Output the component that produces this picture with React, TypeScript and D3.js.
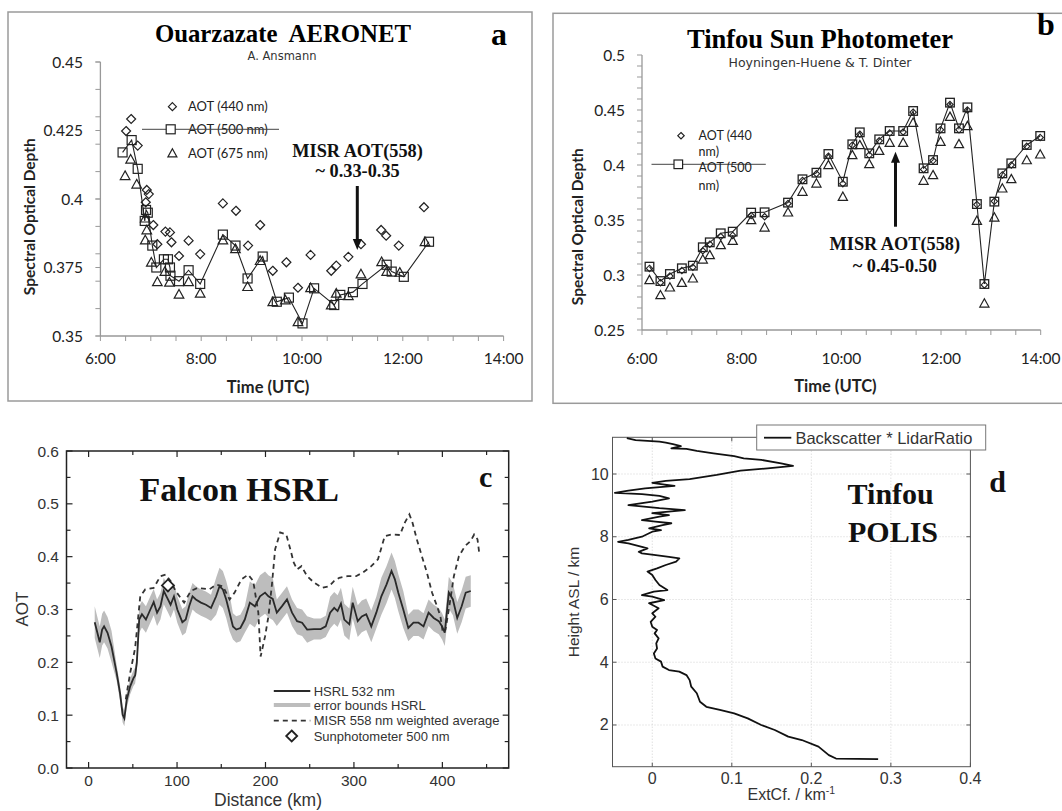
import React from 'react';
import * as d3 from 'd3';

// ---------- Panel a: Ouarzazate AERONET ----------
const aTime440 = [6.51,6.61,6.74,6.90,6.92,6.96,7.05,7.13,7.29,7.38,7.41,7.56,7.75,7.98,8.43,8.69,8.93,9.17,9.42,9.69,9.92,10.17,10.58,10.68,10.92,11.17,11.57,11.67,11.92,12.42];
const aAot440 = [0.4248,0.4292,0.4195,0.3988,0.4033,0.4018,0.3905,0.3835,0.3881,0.3878,0.3842,0.3792,0.3848,0.3799,0.3984,0.3957,0.383,0.3905,0.3738,0.3769,0.3676,0.3796,0.3738,0.3757,0.3789,0.3835,0.3887,0.3866,0.383,0.397];
const aTime500 = [6.44,6.62,6.74,6.88,6.905,6.94,7.03,7.11,7.26,7.34,7.38,7.39,7.56,7.75,7.98,8.43,8.68,8.92,9.22,9.50,9.74,10.01,10.24,10.64,10.76,11.01,11.2,11.68,11.78,12.02,12.52];
const aAot500 = [0.417,0.4215,0.411,0.392,0.396,0.395,0.383,0.375,0.378,0.378,0.375,0.372,0.370,0.374,0.369,0.387,0.383,0.371,0.379,0.3625,0.364,0.3546,0.3674,0.3613,0.365,0.366,0.369,0.376,0.3735,0.3716,0.3844];
const aTime675 = [6.49,6.60,6.72,6.89,6.92,6.89,7.01,7.13,7.28,7.37,7.56,7.75,7.98,8.43,8.68,8.92,9.17,9.42,9.67,9.92,10.17,10.58,10.68,10.92,11.17,11.58,11.68,11.94,12.44];
const aAot675 = [0.4085,0.4145,0.4054,0.393,0.3887,0.385,0.3769,0.3698,0.3735,0.3696,0.3652,0.3698,0.3656,0.385,0.3818,0.368,0.3775,0.3625,0.3631,0.3552,0.3676,0.3613,0.3656,0.3647,0.3726,0.3771,0.3735,0.3732,0.3844];
const aYTicks = [0.35, 0.375, 0.4, 0.425, 0.45];
const aYTickLabels = ['0.35', '0.375', '0.4', '0.425', '0.45'];
const timeTicks = [6, 8, 10, 12, 14];
const timeTickLabels = ['6:00', '8:00', '10:00', '12:00', '14:00'];

// ---------- Panel b: Tinfou Sun Photometer ----------
const bTime = [6.15,6.37,6.56,6.80,7.02,7.22,7.36,7.58,7.82,8.19,8.46,8.93,9.22,9.50,9.74,10.03,10.22,10.37,10.56,10.76,10.97,11.24,11.44,11.65,11.84,11.99,12.18,12.36,12.53,12.72,12.87,13.07,13.23,13.41,13.72,13.99];
const bAot440 = [0.306,0.293,0.299,0.304,0.307,0.322,0.328,0.335,0.336,0.354,0.353,0.365,0.386,0.392,0.408,0.383,0.418,0.428,0.409,0.422,0.429,0.430,0.448,0.396,0.404,0.432,0.455,0.432,0.450,0.364,0.291,0.367,0.391,0.400,0.417,0.425];
const bAot500 = [0.3076,0.2945,0.3009,0.3061,0.3085,0.3252,0.3297,0.3379,0.3394,0.3567,0.357,0.3658,0.387,0.393,0.41,0.3848,0.4188,0.4297,0.4106,0.4233,0.4309,0.4309,0.4491,0.397,0.4045,0.4333,0.4567,0.4333,0.4524,0.3645,0.2918,0.3667,0.3924,0.4015,0.4182,0.4264];
const bAot675 = [0.2955,0.2818,0.2888,0.293,0.297,0.3142,0.3182,0.3273,0.3312,0.35,0.3433,0.357,0.3758,0.3833,0.4,0.3712,0.4091,0.4182,0.4009,0.413,0.4203,0.4203,0.4385,0.3858,0.3909,0.4212,0.4439,0.4191,0.4355,0.3494,0.2742,0.3524,0.3788,0.3873,0.4045,0.4097];
const bYTicks = [0.25, 0.3, 0.35, 0.4, 0.45, 0.5];
const bYTickLabels = ['0.25', '0.3', '0.35', '0.4', '0.45', '0.5'];

// ---------- Panel c: Falcon HSRL ----------
const cKm = [6.9,9.9,12.6,15.3,17.5,21.4,25.9,31.7,35.5,38.5,40.4,43.1,46.9,50.7,52.6,54.5,57.2,60.3,64.8,69.8,73.6,77.4,81.2,85.0,88.9,92.7,96.5,100.3,106,109.8,113.7,117.5,121.3,127,132.7,138.4,144.2,148,151.8,155.6,159.4,163.2,167,171.6,176.6,182.3,188,193.8,199.5,203.3,208.2,212.8,218.5,224.3,230,235.7,241.4,247.1,254.8,262.4,268.1,273.1,277.7,281.5,285.3,289.1,294.8,298.6,304.3,308.9,313.9,319.6,325.3,331,336.8,342.5,346.3,350.1,355.8,361.5,367.3,373,378.7,384.4,390.2,395.9,399.7,402.7,407.3,411.9,416.8,421.8,426.4,432.1];
const cHsrl = [0.276,0.256,0.238,0.262,0.268,0.256,0.230,0.180,0.142,0.101,0.094,0.129,0.154,0.170,0.175,0.199,0.281,0.291,0.281,0.300,0.314,0.294,0.306,0.335,0.322,0.309,0.325,0.300,0.276,0.281,0.306,0.325,0.319,0.313,0.309,0.303,0.325,0.344,0.338,0.319,0.294,0.268,0.262,0.265,0.281,0.313,0.306,0.325,0.332,0.325,0.320,0.294,0.306,0.319,0.294,0.278,0.275,0.262,0.263,0.263,0.268,0.294,0.303,0.297,0.311,0.281,0.272,0.313,0.278,0.287,0.291,0.268,0.294,0.325,0.347,0.373,0.357,0.332,0.300,0.265,0.275,0.275,0.268,0.294,0.284,0.278,0.268,0.256,0.332,0.319,0.284,0.306,0.332,0.335];
const cErr = [0.03,0.03,0.03,0.03,0.03,0.03,0.03,0.015,0.015,0.015,0.015,0.015,0.015,0.015,0.015,0.015,0.025,0.025,0.025,0.025,0.025,0.025,0.025,0.025,0.025,0.025,0.025,0.025,0.025,0.025,0.025,0.025,0.025,0.025,0.025,0.025,0.035,0.035,0.035,0.035,0.035,0.025,0.025,0.025,0.025,0.04,0.04,0.04,0.04,0.04,0.04,0.025,0.025,0.025,0.025,0.025,0.025,0.025,0.02,0.02,0.02,0.03,0.03,0.03,0.03,0.03,0.03,0.03,0.03,0.03,0.03,0.03,0.03,0.035,0.035,0.035,0.035,0.035,0.035,0.025,0.025,0.025,0.025,0.025,0.025,0.025,0.025,0.025,0.03,0.03,0.03,0.03,0.03,0.03];
const cMisrKm = [42,47,52.6,58.4,64,73.6,81.2,87,92.7,98.4,108,115.6,123.2,136.5,144.2,151.8,159.4,165.1,172.8,180.4,186.1,191.9,194.5,199.5,203.3,207.1,210.9,216.6,223.5,228.1,231.9,235.7,240.7,247.1,254.8,264.3,271.9,277.7,283.4,292.9,302.4,310.1,319.6,327.2,334.9,342.5,352,357.7,362.7,366.1,371.1,376.8,382.5,388.3,394,397.8,400.5,403.5,407.3,413,418.7,425.6,432.1,435.9,439.7,441.6];
const cMisr = [0.13,0.18,0.227,0.325,0.338,0.341,0.363,0.366,0.354,0.335,0.313,0.335,0.341,0.338,0.347,0.344,0.319,0.332,0.357,0.366,0.354,0.294,0.211,0.249,0.287,0.344,0.414,0.446,0.442,0.414,0.389,0.376,0.382,0.363,0.351,0.341,0.344,0.354,0.360,0.363,0.363,0.370,0.382,0.395,0.439,0.442,0.441,0.465,0.480,0.465,0.433,0.401,0.370,0.332,0.306,0.287,0.256,0.262,0.300,0.363,0.401,0.420,0.430,0.442,0.433,0.408];
const cSunKm = [89.7];
const cSun = [0.3456];
const cXTicks = [0, 100, 200, 300, 400];
const cYTicks = [0, 0.1, 0.2, 0.3, 0.4, 0.5, 0.6];
const cYTickLabels = ['0.0', '0.1', '0.2', '0.3', '0.4', '0.5', '0.6'];
const cLegend = ['HSRL 532 nm', 'error bounds HSRL', 'MISR 558 nm weighted average', 'Sunphotometer 500 nm'];

// ---------- Panel d: Tinfou POLIS ----------
const dExt = [0.284,0.231,0.222,0.209,0.188,0.171,0.154,0.137,0.120,0.103,0.085,0.068,0.060,0.056,0.049,0.047,0.043,0.034,0.021,0.013,0.011,0.004,0.002,0.006,0.005,0.008,0.003,0.006,0.000,-0.002,0.004,0.000,0.008,-0.004,0.015,0.000,-0.013,0.002,0.019,0.009,0.004,0.000,-0.006,0.006,0.017,0.030,0.034,0.021,0.002,-0.013,-0.017,-0.006,-0.013,-0.030,-0.043,-0.030,-0.013,-0.004,0.000,0.011,-0.004,0.013,0.024,0.004,-0.013,0.009,0.021,0.000,0.041,0.009,-0.030,0.000,0.021,0.009,-0.013,-0.047,-0.030,-0.009,0.028,0.011,0.000,0.017,0.047,0.081,0.111,0.145,0.177,0.162,0.137,0.115,0.103,0.077,0.056,0.043,0.024,0.036,0.026,0.017,0.009,-0.021,-0.032];
const dHeight = [0.91,0.93,1.04,1.31,1.52,1.63,1.84,2.0,2.21,2.37,2.48,2.58,2.74,3.01,3.22,3.43,3.59,3.70,3.75,3.86,4.02,4.12,4.28,4.44,4.60,4.76,4.92,5.03,5.13,5.29,5.45,5.56,5.72,5.88,5.98,6.09,6.14,6.25,6.30,6.46,6.62,6.78,6.89,6.99,7.10,7.21,7.31,7.36,7.42,7.47,7.52,7.63,7.68,7.79,7.84,7.90,8.00,8.11,8.16,8.21,8.27,8.37,8.43,8.48,8.53,8.64,8.69,8.75,8.85,8.91,9.01,9.12,9.22,9.30,9.36,9.40,9.47,9.54,9.62,9.68,9.72,9.78,9.84,9.97,10.11,10.18,10.26,10.34,10.45,10.50,10.57,10.66,10.74,10.80,10.82,10.89,10.95,11.0,11.03,11.08,11.14];
const dXTicks = [0, 0.1, 0.2, 0.3, 0.4];
const dXTickLabels = ['0', '0.1', '0.2', '0.3', '0.4'];
const dYTicks = [2, 4, 6, 8, 10];

const FXL = "Lato, 'Open Sans', sans-serif";
const FSERIF = "'Liberation Serif', 'DejaVu Serif', serif";
const FSANS = "'Liberation Sans', Arial, sans-serif";
const FWIDE = "'DejaVu Sans', Verdana, sans-serif";

const diamond = (r: number) => `M0,${-r}L${r},0L0,${r}L${-r},0Z`;
const triangle = (r: number) => `M0,${-r}L${r},${r * 0.8}L${-r},${r * 0.8}Z`;

function Arrow({ x, y1, y2 }: { x: number; y1: number; y2: number }) {
  const dir = y2 > y1 ? 1 : -1;
  return (
    <g>
      <line x1={x} y1={y1} x2={x} y2={y2 - dir * 8} stroke="#111" strokeWidth={3} />
      <path d={`M${x},${y2}L${x - 4.5},${y2 - dir * 11}L${x + 4.5},${y2 - dir * 11}Z`} fill="#111" />
    </g>
  );
}

function PanelA() {
  const x = d3.scaleLinear().domain([6, 14]).range([100.4, 503.6]);
  const y = d3.scaleLinear().domain([0.35, 0.45]).range([336, 62]);
  const line = d3.line<number>().x((_, i) => x(aTime500[i])).y(d => y(d));
  const yMinor = d3.range(35, 46).map(i => i / 100);
  const xMinor = d3.range(12, 29).map(i => i / 2);
  return (
    <g>
      <rect x={8} y={12} width={524} height={389} fill="none" stroke="#9a9a9a" strokeWidth={1.5} />
      <text x={283} y={41.7} textAnchor="middle" fontFamily={FSERIF} fontWeight="bold" fontSize={24.8} style={{ whiteSpace: 'pre' }}>Ouarzazate  AERONET</text>
      <text x={282} y={60} textAnchor="middle" fontFamily={FWIDE} fontSize={11.5} fill="#333">A. Ansmann</text>
      <text x={499} y={45} textAnchor="middle" fontFamily={FSERIF} fontWeight="bold" fontSize={32}>a</text>
      <line x1={x(6)} x2={x(6)} y1={y(0.45)} y2={y(0.35)} stroke="#999" strokeWidth={1.3} />
      <line x1={x(6)} x2={x(14)} y1={y(0.35)} y2={y(0.35)} stroke="#999" strokeWidth={1.3} />
      {[...yMinor, ...aYTicks].map((v, i) => (
        <line key={'yt' + i} x1={x(6) - 5} x2={x(6)} y1={y(v)} y2={y(v)} stroke="#999" strokeWidth={1} />
      ))}
      {xMinor.map((v, i) => (
        <line key={'xt' + i} x1={x(v)} x2={x(v)} y1={y(0.35)} y2={y(0.35) + 5} stroke="#999" strokeWidth={1} />
      ))}
      {aYTicks.map((v, i) => (
        <text key={'yl' + i} x={83} y={y(v) + 5.5} textAnchor="end" fontFamily={FXL} fontSize={15.5} fill="#222">{aYTickLabels[i]}</text>
      ))}
      {timeTicks.map((v, i) => (
        <text key={'xl' + i} x={x(v)} y={364.3} textAnchor="middle" fontFamily={FXL} fontSize={15.5} fill="#222">{timeTickLabels[i]}</text>
      ))}
      <text x={268} y={392.7} textAnchor="middle" fontFamily={FXL} fontWeight="bold" fontSize={16.5} fill="#222">Time (UTC)</text>
      <text transform="translate(35,216.7) rotate(-90)" textAnchor="middle" fontFamily={FXL} fontWeight="bold" fontSize={15.5} fill="#222">Spectral Optical Depth</text>
      <path d={line(aAot500) || ''} fill="none" stroke="#222" strokeWidth={1.1} />
      {aAot440.map((v, i) => (
        <path key={'d' + i} d={diamond(4.5)} transform={`translate(${x(aTime440[i])},${y(v)})`} fill="none" stroke="#222" strokeWidth={1.2} />
      ))}
      {aAot500.map((v, i) => (
        <rect key={'s' + i} x={x(aTime500[i]) - 4.5} y={y(v) - 4.5} width={9} height={9} fill="none" stroke="#222" strokeWidth={1.2} />
      ))}
      {aAot675.map((v, i) => (
        <path key={'t' + i} d={triangle(4.8)} transform={`translate(${x(aTime675[i])},${y(v)})`} fill="none" stroke="#222" strokeWidth={1.2} />
      ))}
      {/* legend */}
      <path d={diamond(4)} transform="translate(172.4,106.7)" fill="none" stroke="#222" strokeWidth={1.2} />
      <text x={188} y={111} fontFamily={FXL} fontSize={13} fill="#222">AOT (440 nm)</text>
      <text x={188} y={133.5} fontFamily={FXL} fontSize={13} fill="#222">AOT (500 nm)</text>
      <line x1={142} x2={279} y1={129.3} y2={129.3} stroke="#444" strokeWidth={1} />
      <rect x={166.2} y={124.8} width={9} height={9} fill="#fff" stroke="#222" strokeWidth={1.2} />
      <path d={triangle(4.5)} transform="translate(172.4,153.3)" fill="none" stroke="#222" strokeWidth={1.2} />
      <text x={188} y={157.5} fontFamily={FXL} fontSize={13} fill="#222">AOT (675 nm)</text>
      {/* MISR annotation */}
      <text x={357.6} y={156.7} textAnchor="middle" fontFamily={FSERIF} fontWeight="bold" fontSize={18.3} fill="#111">MISR AOT(558)</text>
      <text x={357.6} y={176.7} textAnchor="middle" fontFamily={FSERIF} fontWeight="bold" fontSize={18.3} fill="#111">~ 0.33-0.35</text>
      <Arrow x={357.3} y1={186} y2={250} />
    </g>
  );
}

function PanelB() {
  const x = d3.scaleLinear().domain([6, 14]).range([642, 1040.7]);
  const y = d3.scaleLinear().domain([0.25, 0.5]).range([330, 55]);
  const line = d3.line<number>().x((_, i) => x(bTime[i])).y(d => y(d));
  const yMinor = d3.range(25, 51).map(i => i / 100);
  const xMinor = d3.range(12, 29).map(i => i / 2);
  return (
    <g>
      <rect x={553} y={13.3} width={530} height={390} fill="none" stroke="#9a9a9a" strokeWidth={1.5} />
      <text x={820} y={48.3} textAnchor="middle" fontFamily={FSERIF} fontWeight="bold" fontSize={26.5}>Tinfou Sun Photometer</text>
      <text x={820} y={66.7} textAnchor="middle" fontFamily={FWIDE} fontSize={12.5} fill="#333">Hoyningen-Huene &amp; T. Dinter</text>
      <text x={1045.8} y={35} textAnchor="middle" fontFamily={FSERIF} fontWeight="bold" fontSize={32}>b</text>
      <line x1={x(6)} x2={x(6)} y1={y(0.5)} y2={y(0.25)} stroke="#999" strokeWidth={1.3} />
      <line x1={x(6)} x2={x(14)} y1={y(0.25)} y2={y(0.25)} stroke="#999" strokeWidth={1.3} />
      {yMinor.map((v, i) => (
        <line key={'yt' + i} x1={x(6) - 5} x2={x(6)} y1={y(v)} y2={y(v)} stroke="#999" strokeWidth={1} />
      ))}
      {xMinor.map((v, i) => (
        <line key={'xt' + i} x1={x(v)} x2={x(v)} y1={y(0.25)} y2={y(0.25) + 5} stroke="#999" strokeWidth={1} />
      ))}
      {bYTicks.map((v, i) => (
        <text key={'yl' + i} x={625} y={y(v) + 5.5} textAnchor="end" fontFamily={FXL} fontSize={15.5} fill="#222">{bYTickLabels[i]}</text>
      ))}
      {timeTicks.map((v, i) => (
        <text key={'xl' + i} x={x(v)} y={364.3} textAnchor="middle" fontFamily={FXL} fontSize={15.5} fill="#222">{timeTickLabels[i]}</text>
      ))}
      <text x={835.4} y={391.7} textAnchor="middle" fontFamily={FXL} fontWeight="bold" fontSize={16.5} fill="#222">Time (UTC)</text>
      <text transform="translate(583,226.7) rotate(-90)" textAnchor="middle" fontFamily={FXL} fontWeight="bold" fontSize={15.5} fill="#222">Spectral Optical Depth</text>
      <path d={line(bAot500) || ''} fill="none" stroke="#222" strokeWidth={1.1} />
      {bAot440.map((v, i) => (
        <path key={'d' + i} d={diamond(3.2)} transform={`translate(${x(bTime[i])},${y(v)})`} fill="none" stroke="#222" strokeWidth={1.1} />
      ))}
      {bAot500.map((v, i) => (
        <rect key={'s' + i} x={x(bTime[i]) - 4.3} y={y(v) - 4.3} width={8.6} height={8.6} fill="none" stroke="#222" strokeWidth={1.3} />
      ))}
      {bAot675.map((v, i) => (
        <path key={'t' + i} d={triangle(4.6)} transform={`translate(${x(bTime[i])},${y(v)})`} fill="none" stroke="#222" strokeWidth={1.2} />
      ))}
      {/* legend */}
      <path d={diamond(3.2)} transform="translate(681,135.7)" fill="none" stroke="#222" strokeWidth={1.2} />
      <text x={698.6} y={140} fontFamily={FXL} fontSize={12.5} fill="#222">AOT (440</text>
      <text x={698.6} y={156} fontFamily={FXL} fontSize={12.5} fill="#222">nm)</text>
      <line x1={651.5} x2={765.8} y1={164.3} y2={164.3} stroke="#444" strokeWidth={1} />
      <rect x={674} y={160} width={8.6} height={8.6} fill="#fff" stroke="#222" strokeWidth={1.2} />
      <text x={698.6} y={171.7} fontFamily={FXL} fontSize={12.5} fill="#222">AOT (500</text>
      <text x={698.6} y={190} fontFamily={FXL} fontSize={12.5} fill="#222">nm)</text>
      {/* MISR annotation */}
      <text x={894.8} y={250} textAnchor="middle" fontFamily={FSERIF} fontWeight="bold" fontSize={18.3} fill="#111">MISR AOT(558)</text>
      <text x={894.8} y={271.7} textAnchor="middle" fontFamily={FSERIF} fontWeight="bold" fontSize={18.3} fill="#111">~ 0.45-0.50</text>
      <Arrow x={895.5} y1={226.7} y2={151.7} />
    </g>
  );
}

function PanelC() {
  const x = d3.scaleLinear().domain([-25, 475]).range([66.5, 508.7]);
  const y = d3.scaleLinear().domain([0, 0.6]).range([768, 451]);
  const area = d3.area<number>().x((_, i) => x(cKm[i])).y0((d, i) => y(d - cErr[i])).y1((d, i) => y(d + cErr[i]));
  const hsrl = d3.line<number>().x((_, i) => x(cKm[i])).y(d => y(d));
  const misr = d3.line<number>().x((_, i) => x(cMisrKm[i])).y(d => y(d));
  const xMinor = d3.range(0, 451, 50);
  const yMinor = d3.range(0, 13).map(i => i * 0.05);
  const [x0, x1] = x.range();
  const [y0, y1] = y.range();
  const legY = [691, 705, 720.7, 736];
  return (
    <g>
      <rect x={x0} y={y1} width={x1 - x0} height={y0 - y1} fill="none" stroke="#222" strokeWidth={1.5} />
      {xMinor.map((v, i) => {
        const L = v % 100 === 0 ? 6 : 4;
        return (
          <g key={'xt' + i}>
            <line x1={x(v)} x2={x(v)} y1={y0} y2={y0 - L} stroke="#222" strokeWidth={1.2} />
            <line x1={x(v)} x2={x(v)} y1={y1} y2={y1 + L} stroke="#222" strokeWidth={1.2} />
          </g>
        );
      })}
      {yMinor.map((v, i) => {
        const L = i % 2 === 0 ? 6 : 4;
        return (
          <g key={'yt' + i}>
            <line x1={x0} x2={x0 + L} y1={y(v)} y2={y(v)} stroke="#222" strokeWidth={1.2} />
            <line x1={x1} x2={x1 - L} y1={y(v)} y2={y(v)} stroke="#222" strokeWidth={1.2} />
          </g>
        );
      })}
      {cYTicks.map((v, i) => (
        <text key={'yl' + i} x={59} y={y(v) + 5.5} textAnchor="end" fontFamily={FSANS} fontSize={15.5} fill="#333">{cYTickLabels[i]}</text>
      ))}
      {cXTicks.map((v, i) => (
        <text key={'xl' + i} x={x(v)} y={786} textAnchor="middle" fontFamily={FSANS} fontSize={15.5} fill="#333">{String(v)}</text>
      ))}
      <text x={268} y={806} textAnchor="middle" fontFamily={FSANS} fontSize={17.5} fill="#333">Distance (km)</text>
      <text transform="translate(28,609) rotate(-90)" textAnchor="middle" fontFamily={FSANS} fontSize={17} fill="#333">AOT</text>
      <text x={139.6} y={501} fontFamily={FSERIF} fontWeight="bold" fontSize={34} fill="#111">Falcon HSRL</text>
      <text x={485.7} y={487.3} textAnchor="middle" fontFamily={FSERIF} fontWeight="bold" fontSize={30} fill="#111">c</text>
      <path d={area(cHsrl) || ''} fill="#bdbdbd" stroke="none" />
      <path d={misr(cMisr) || ''} fill="none" stroke="#333" strokeWidth={1.8} strokeDasharray="5,4" />
      <path d={hsrl(cHsrl) || ''} fill="none" stroke="#2a2a2a" strokeWidth={1.8} />
      {cSun.map((v, i) => (
        <path key={'sun' + i} d={diamond(6)} transform={`translate(${x(cSunKm[i])},${y(v)})`} fill="#fff" stroke="#222" strokeWidth={1.8} />
      ))}
      {/* legend */}
      <line x1={273.8} x2={310.3} y1={legY[0]} y2={legY[0]} stroke="#2a2a2a" strokeWidth={2} />
      <line x1={273.8} x2={310.3} y1={legY[1]} y2={legY[1]} stroke="#bdbdbd" strokeWidth={4} />
      <line x1={273.8} x2={310.3} y1={legY[2]} y2={legY[2]} stroke="#333" strokeWidth={1.8} strokeDasharray="5,4" />
      <path d={diamond(5.5)} transform={`translate(291.7,${legY[3]})`} fill="#fff" stroke="#222" strokeWidth={1.8} />
      {cLegend.map((t, i) => (
        <text key={'lg' + i} x={313.7} y={legY[i] + 4.5} fontFamily={FSANS} fontSize={13} fill="#333">{t}</text>
      ))}
    </g>
  );
}

function PanelD() {
  const x = d3.scaleLinear().domain([-0.05, 0.4]).range([612.5, 970.4]);
  const y = d3.scaleLinear().domain([0.67, 11.17]).range([766.7, 437.3]);
  const prof = d3.line<number>().x(d => x(d)).y((_, i) => y(dHeight[i]));
  const [x0, x1] = x.range();
  const [y0, y1] = y.range();
  return (
    <g>
      {dXTicks.slice(0, 4).map((v, i) => (
        <line key={'gx' + i} x1={x(v)} x2={x(v)} y1={y0} y2={y1} stroke="#c8c8c8" strokeWidth={0.8} strokeDasharray="1,2" />
      ))}
      {dYTicks.map((v, i) => (
        <line key={'gy' + i} x1={x0} x2={x1} y1={y(v)} y2={y(v)} stroke="#c8c8c8" strokeWidth={0.8} strokeDasharray="1,2" />
      ))}
      <rect x={x0} y={y1} width={x1 - x0} height={y0 - y1} fill="none" stroke="#555" strokeWidth={1} />
      {dXTicks.map((v, i) => (
        <g key={'xt' + i}>
          <line x1={x(v)} x2={x(v)} y1={y0} y2={y0 - 4} stroke="#555" />
          <line x1={x(v)} x2={x(v)} y1={y1} y2={y1 + 4} stroke="#555" />
          <text x={x(v)} y={784} textAnchor="middle" fontFamily={FSANS} fontSize={16} fill="#333">{dXTickLabels[i]}</text>
        </g>
      ))}
      {dYTicks.map((v, i) => (
        <g key={'yt' + i}>
          <line x1={x0} x2={x0 + 4} y1={y(v)} y2={y(v)} stroke="#555" />
          <line x1={x1} x2={x1 - 4} y1={y(v)} y2={y(v)} stroke="#555" />
          <text x={608.7} y={y(v) + 5.5} textAnchor="end" fontFamily={FSANS} fontSize={16} fill="#333">{String(v)}</text>
        </g>
      ))}
      <text x={791.3} y={800} textAnchor="middle" fontFamily={FSANS} fontSize={16} fill="#333">ExtCf. / km<tspan dy={-6} fontSize={10.5}>-1</tspan></text>
      <text transform="translate(579,602) rotate(-90)" textAnchor="middle" fontFamily={FSANS} fontSize={15.5} fill="#333">Height ASL / km</text>
      <path d={prof(dExt) || ''} fill="none" stroke="#111" strokeWidth={1.8} strokeLinejoin="round" />
      <rect x={756.7} y={425} width={229} height={25} fill="#fff" stroke="#777" strokeWidth={1} />
      <line x1={764} x2={791.3} y1={437.7} y2={437.7} stroke="#111" strokeWidth={1.8} />
      <text x={795.4} y={443.5} fontFamily={FSANS} fontSize={16.5} fill="#333">Backscatter * LidarRatio</text>
      <text x={890.7} y={504} textAnchor="middle" fontFamily={FSERIF} fontWeight="bold" fontSize={30} fill="#111">Tinfou</text>
      <text x={893} y={541.7} textAnchor="middle" fontFamily={FSERIF} fontWeight="bold" fontSize={30} fill="#111">POLIS</text>
      <text x={997.6} y={491.7} textAnchor="middle" fontFamily={FSERIF} fontWeight="bold" fontSize={30} fill="#111">d</text>
    </g>
  );
}

export default function App() {
  return (
    <svg width={1062} height={811} viewBox="0 0 1062 811" style={{ position: 'absolute', left: 0, top: 0, background: '#fff' }}>
      <rect x={0} y={0} width={1062} height={811} fill="#fff" />
      <PanelA />
      <PanelB />
      <PanelC />
      <PanelD />
    </svg>
  );
}
